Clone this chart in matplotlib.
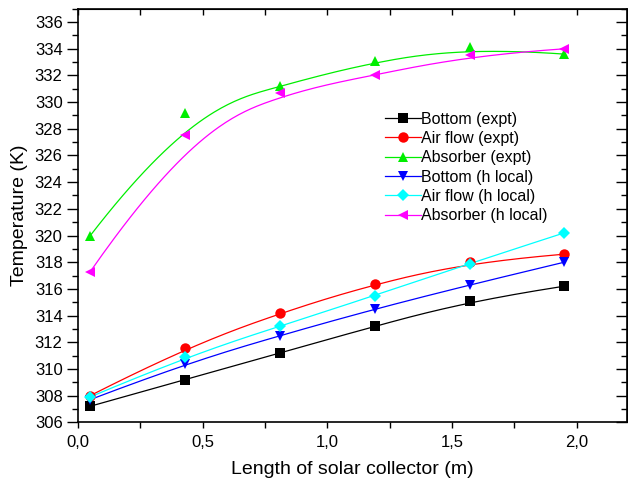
import matplotlib
matplotlib.use("Agg")
import matplotlib.pyplot as plt
from matplotlib.ticker import MultipleLocator, FuncFormatter
import numpy as np

plt.rcParams['font.family'] = ['Liberation Sans', 'DejaVu Sans']

# positions along the collector (m)
length = [0.05, 0.43, 0.81, 1.19, 1.57, 1.95]

bottom_expt = [307.2, 309.2, 311.2, 313.2, 315.1, 316.2]
air_expt = [308.0, 311.6, 314.2, 316.4, 318.0, 318.6]
absorber_expt = [320.0, 329.2, 331.2, 333.1, 334.1, 333.6]
bottom_h = [307.7, 310.4, 312.5, 314.5, 316.3, 318.0]
air_h = [307.9, 310.9, 313.2, 315.5, 317.9, 320.2]
absorber_h = [317.3, 327.5, 330.7, 332.0, 333.5, 334.0]


def bspline(px, py, k=3, num=200):
    # clamped uniform B-spline using the points as control points
    P = np.column_stack([px, py])
    n = len(P)
    inner = np.linspace(0, 1, n - k + 1)
    t = np.concatenate([[0] * k, inner, [1] * k])
    u = np.linspace(0, 1, num)
    u[-1] -= 1e-10
    # Cox-de Boor recursion
    N = np.zeros((num, len(t) - 1))
    for i in range(len(t) - 1):
        N[:, i] = (u >= t[i]) & (u < t[i + 1])
    for d in range(1, k + 1):
        Nn = np.zeros((num, len(t) - 1 - d))
        for i in range(len(t) - 1 - d):
            a = 0.0
            b = 0.0
            if t[i + d] != t[i]:
                a = (u - t[i]) / (t[i + d] - t[i]) * N[:, i]
            if t[i + d + 1] != t[i + 1]:
                b = (t[i + d + 1] - u) / (t[i + d + 1] - t[i + 1]) * N[:, i + 1]
            Nn[:, i] = a + b
        N = Nn
    C = N @ P
    return C[:, 0], C[:, 1]


series = [
    (bottom_expt, "Bottom (expt)", "black", "s"),
    (air_expt, "Air flow (expt)", "red", "o"),
    (absorber_expt, "Absorber (expt)", "#00ee00", "^"),
    (bottom_h, "Bottom (h local)", "blue", "v"),
    (air_h, "Air flow (h local)", "cyan", "D"),
    (absorber_h, "Absorber (h local)", "magenta", "<"),
]

fig = plt.figure(figsize=(6.28, 4.87), dpi=100)
ax = fig.add_axes([0.124, 0.133, 0.874, 0.849])

for ys, lab, col, mk in series:
    sx, sy = bspline(length, ys)
    ax.plot(sx, sy, color=col, lw=0.9, zorder=2)
    ms = 6.5 if mk == "D" else 7.5
    ax.plot(length, ys, linestyle="none", marker=mk, color=col, ms=ms,
            markeredgewidth=0, zorder=3)
    ax.plot([], [], color=col, lw=0.9, marker=mk, ms=ms,
            markeredgewidth=0, label=lab)

ax.set_xlim(0, 2.2)
ax.set_ylim(306, 337)
ax.xaxis.set_major_locator(MultipleLocator(0.5))
ax.xaxis.set_minor_locator(MultipleLocator(0.25))
ax.yaxis.set_major_locator(MultipleLocator(2))
ax.yaxis.set_minor_locator(MultipleLocator(1))
ax.xaxis.set_major_formatter(FuncFormatter(lambda v, p: f"{v:.1f}".replace(".", ",")))
ax.yaxis.set_major_formatter(FuncFormatter(lambda v, p: f"{v:.0f}"))

ax.tick_params(axis="x", which="both", direction="out", length=4, width=1,
               labelsize=12, top=False, pad=5)
ax.tick_params(axis="y", which="major", direction="out", length=8, width=1,
               labelsize=12, right=False, pad=3)
ax.tick_params(axis="y", which="minor", direction="out", length=4, width=1, right=False)

# inward ticks on the top and right edges
top = ax.secondary_xaxis("top")
top.xaxis.set_major_locator(MultipleLocator(0.25))
top.tick_params(direction="in", length=4, width=1, labeltop=False)
right = ax.secondary_yaxis("right")
right.yaxis.set_major_locator(MultipleLocator(2))
right.yaxis.set_minor_locator(MultipleLocator(1))
right.tick_params(which="major", direction="in", length=8, width=1, labelright=False)
right.tick_params(which="minor", direction="in", length=4, width=1)

for s in ax.spines.values():
    s.set_linewidth(1.2)

ax.set_xlabel("Length of solar collector (m)", fontsize=14, labelpad=8)
ax.set_ylabel("Temperature (K)", fontsize=14, labelpad=5)

ax.legend(loc="upper left", bbox_to_anchor=(0.54, 0.778), frameon=False,
          fontsize=11.5, handlelength=2.2, handletextpad=0.0, labelspacing=0.27,
          borderpad=0.2)

fig.savefig("out.png", dpi=100)
